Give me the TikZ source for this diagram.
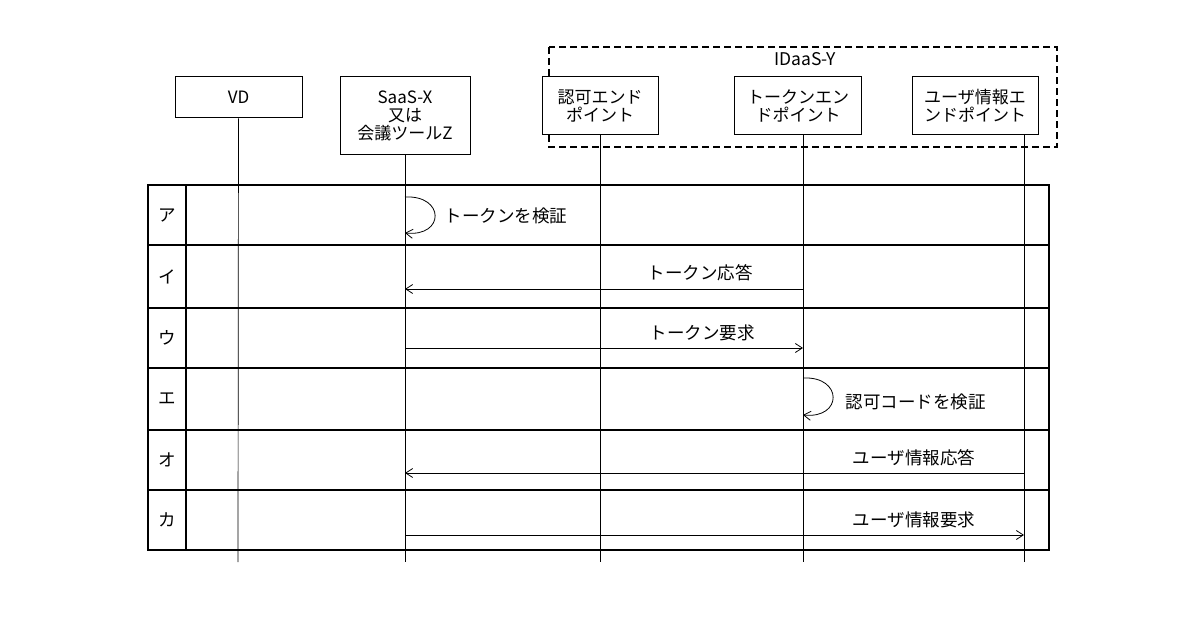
\documentclass[tikz,border=0pt]{standalone}
\usepackage{fontspec}
\setmainfont{Noto Sans CJK JP}
\usetikzlibrary{arrows.meta}
\begin{document}
\begin{tikzpicture}[x=1pt,y=-1pt,
  box/.style={draw,line width=1pt,fill=white,align=center,font=\fontsize{17}{18}\selectfont,inner sep=0pt},
  msg/.style={-{Straight Barb[length=7pt,width=9pt]},line width=0.8pt},
  lbl/.style={font=\fontsize{17.5}{18}\selectfont},
  life/.style={line width=0.7pt},
  grid/.style={line width=1.8pt}]
\useasboundingbox (0,0) rectangle (1200,628);
% dashed group
\draw[dash pattern=on 7pt off 4pt,line width=1.3pt] (549,47) rectangle (1057,147);
\node[lbl] (grp) at (805,59) {IDaaS-Y};
% actor boxes
\node[box,minimum width=127pt,minimum height=41pt] (vd) at (238.5,97.5) {VD};
\node[box,minimum width=130pt,minimum height=78pt] (saas) at (405,116) {SaaS-X\\又は\\会議ツールZ};
\node[box,minimum width=116pt,minimum height=58pt] (auth) at (600,106) {認可エンド\\ポイント};
\node[box,minimum width=127pt,minimum height=58pt] (tok) at (798,106) {トークンエン\\ドポイント};
\node[box,minimum width=126pt,minimum height=58pt] (usr) at (975,106) {ユーザ情報エ\\ンドポイント};
% lifeline ends
\coordinate (vdE) at (238,562);
\coordinate (saasE) at (405,562);
\coordinate (authE) at (600,562);
\coordinate (tokE) at (803,562);
\coordinate (usrE) at (1024,562);
\draw[life] (vd) -- (vdE);
\draw[life] (saas) -- (saasE);
\draw[life] (auth) -- (authE);
\draw[life] (803,135) -- (tokE);
\draw[life] (1024,135) -- (usrE);
% table
\draw[grid] (148,185) rectangle (1049,550);
\draw[grid] (186,185) -- (186,550);
\foreach \y in {245,308,368,430,490} \draw[grid] (148,\y) -- (1049,\y);
\foreach \y/\t [count=\i] in {215/ア,277/イ,338/ウ,399/エ,460/オ,520/カ}
  \node[lbl] (r\i) at (167,\y) {\t};
% ア
\coordinate (a1) at (405,197); \coordinate (a2) at (405,233);
\draw[msg] (a1) .. controls (445,195) and (445,237) .. (a2);
\node[lbl,anchor=west] (la) at (441,216) {トークンを検証};
% イ
\coordinate (i1) at (803,289); \coordinate (i2) at (405,289);
\draw[msg] (i1) -- (i2);
\node[lbl] (li) at (700,273) {トークン応答};
% ウ
\coordinate (u1) at (405,348); \coordinate (u2) at (803,348);
\draw[msg] (u1) -- (u2);
\node[lbl] (lu) at (702,333) {トークン要求};
% エ
\coordinate (e1) at (803,378); \coordinate (e2) at (803,415);
\draw[msg] (e1) .. controls (843,376) and (843,419) .. (e2);
\node[lbl,anchor=west] (le) at (842,402) {認可コードを検証};
% オ
\coordinate (o1) at (1024,473); \coordinate (o2) at (405,473);
\draw[msg] (o1) -- (o2);
\node[lbl] (lo) at (914,458) {ユーザ情報応答};
% カ
\coordinate (k1) at (405,535); \coordinate (k2) at (1024,535);
\draw[msg] (k1) -- (k2);
\node[lbl] (lk) at (914,520) {ユーザ情報要求};
\end{tikzpicture}
\end{document}
